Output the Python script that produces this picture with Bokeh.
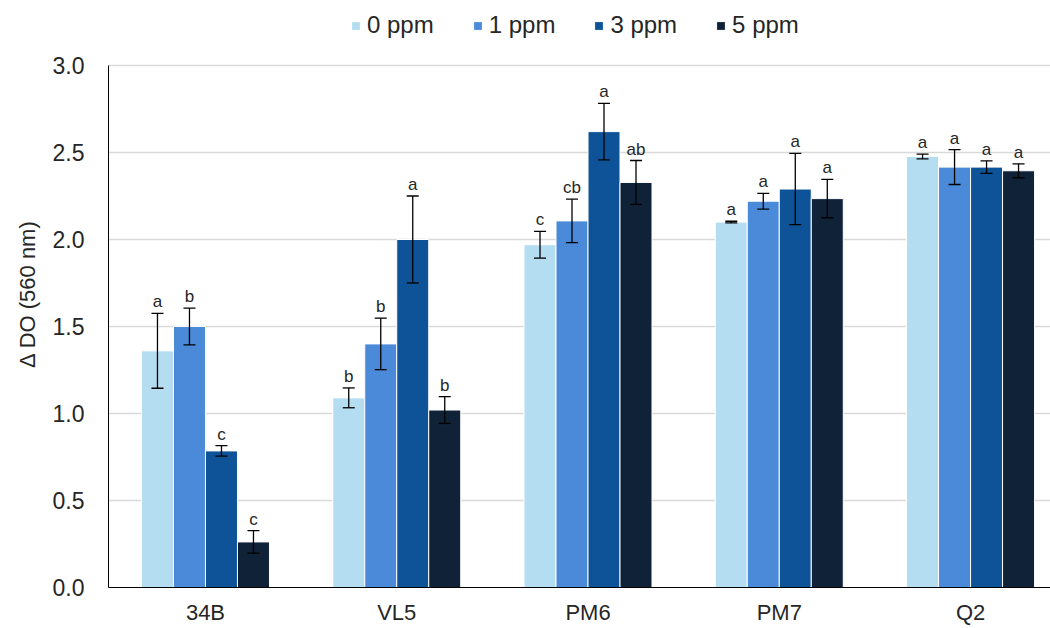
from bokeh.plotting import figure
from bokeh.models import (ColumnDataSource, Whisker, TeeHead, Legend, LegendItem,
                          FixedTicker, Range1d, NumeralTickFormatter)
from bokeh.core.properties import value
from bokeh.embed import file_html
from bokeh.resources import INLINE

strains = ["34B", "VL5", "PM6", "PM7", "Q2"]
doses = ["0 ppm", "1 ppm", "3 ppm", "5 ppm"]
colors = ["#b5ddf2", "#4a8ad8", "#0e5397", "#0f2237"]
yticks = [0, 0.5, 1.0, 1.5, 2.0, 2.5, 3.0]

means = {
    "0 ppm": [1.36, 1.09, 1.97, 2.10, 2.477],
    "1 ppm": [1.50, 1.40, 2.107, 2.22, 2.416],
    "3 ppm": [0.785, 2.00, 2.62, 2.29, 2.416],
    "5 ppm": [0.262, 1.02, 2.328, 2.235, 2.395],
}
errors = {
    "0 ppm": [0.215, 0.057, 0.077, 0.005, 0.014],
    "1 ppm": [0.106, 0.148, 0.125, 0.045, 0.100],
    "3 ppm": [0.030, 0.250, 0.162, 0.205, 0.036],
    "5 ppm": [0.065, 0.077, 0.126, 0.110, 0.040],
}
letters = {
    "0 ppm": ["a", "b", "c", "a", "a"],
    "1 ppm": ["b", "b", "cb", "a", "a"],
    "3 ppm": ["c", "a", "a", "a", "a"],
    "5 ppm": ["c", "b", "ab", "a", "a"],
}

FONT = "Liberation Sans"
TXT = "#262626"

YMAX = 3.0
FRAME_H = 587
PLOT_H = 522
y_top = YMAX * FRAME_H / PLOT_H  # headroom for the legend inside the frame

p = figure(frame_width=942, frame_height=FRAME_H, output_backend="svg",
           toolbar_location=None,
           x_range=Range1d(-0.507, 4.418), y_range=Range1d(0, y_top),
           min_border_left=108, min_border_right=0, min_border_top=0,
           min_border_bottom=41)
p.outline_line_color = None
p.background_fill_color = "white"
p.border_fill_color = "white"

bw = 0.1673
items = []
for j, d in enumerate(doses):
    off = (j - 1.5) * bw
    xs = [i + off for i in range(len(strains))]
    m = means[d]
    e = errors[d]
    src = ColumnDataSource(dict(
        x=xs, top=m,
        upper=[a + b for a, b in zip(m, e)],
        lower=[a - b for a, b in zip(m, e)],
        lab=letters[d],
    ))
    r = p.vbar(x="x", top="top", width=bw, source=src, fill_color=colors[j],
               line_color="white", line_width=1)
    items.append(LegendItem(label=d, renderers=[r]))
    w = Whisker(base="x", upper="upper", lower="lower", source=src,
                line_color="black", line_width=1.3, level="overlay",
                upper_head=TeeHead(size=12, line_color="black", line_width=1.3),
                lower_head=TeeHead(size=12, line_color="black", line_width=1.3))
    p.add_layout(w)
    p.text(x="x", y="upper", text="lab", source=src, text_align="center",
           text_baseline="bottom", y_offset=-2, text_font_size="17px",
           text_font=value(FONT), text_color=TXT)

legend = Legend(items=items, orientation="horizontal", location=(242, 548),
                label_text_font=FONT, label_text_font_size="24px",
                label_text_color=TXT, glyph_width=11, glyph_height=11,
                spacing=38, label_standoff=6, border_line_color=None,
                background_fill_alpha=0, padding=0, margin=0)
p.add_layout(legend, "center")

p.xaxis.ticker = FixedTicker(ticks=list(range(len(strains))))
p.xaxis.major_label_overrides = {i: s for i, s in enumerate(strains)}
p.xaxis.major_tick_line_color = None
p.xaxis.minor_tick_line_color = None
p.xaxis.axis_line_color = "black"
p.xaxis.major_label_text_font = FONT
p.xaxis.major_label_text_font_size = "22px"
p.xaxis.major_label_text_color = TXT
p.xaxis.major_label_standoff = 6

p.yaxis.ticker = FixedTicker(ticks=yticks)
p.yaxis.bounds = (0, YMAX)
p.yaxis.formatter = NumeralTickFormatter(format="0.0")
p.yaxis.major_tick_line_color = None
p.yaxis.minor_tick_line_color = None
p.yaxis.axis_line_color = "black"
p.yaxis.major_label_text_font = FONT
p.yaxis.major_label_text_font_size = "23px"
p.yaxis.major_label_text_color = TXT
p.yaxis.major_label_standoff = 18
p.yaxis.axis_label = "Δ DO (560 nm)"
p.yaxis.axis_label_text_font = FONT
p.yaxis.axis_label_text_font_size = "22px"
p.yaxis.axis_label_text_font_style = "normal"
p.yaxis.axis_label_text_color = TXT
p.yaxis.axis_label_standoff = 10

p.xgrid.grid_line_color = None
p.ygrid.grid_line_color = "#d9d9d9"
p.ygrid.grid_line_width = 1.3

open("out.html", "w").write(file_html(p, INLINE))
